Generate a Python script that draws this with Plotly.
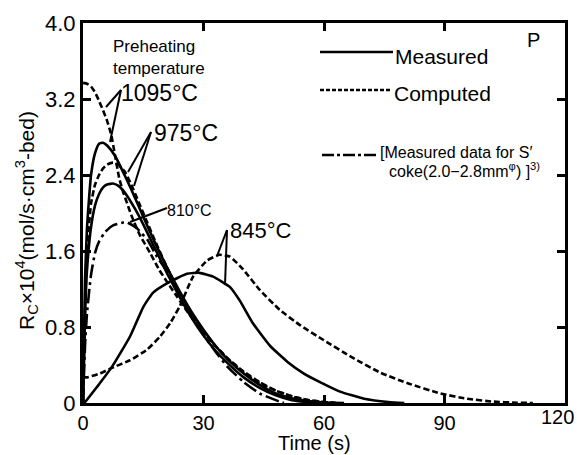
import plotly.graph_objects as go

# ---------------- data ----------------
# Measured (solid)
t_m1095 = [0, 0.5, 1, 1.5, 2, 3, 4, 5, 6, 8, 10, 12, 15, 18, 21, 24, 27, 30, 33, 36, 40, 44, 48, 52, 56, 60, 65]
r_m1095 = [0, 1.3, 1.85, 2.15, 2.4, 2.63, 2.73, 2.74, 2.71, 2.6, 2.43, 2.25, 1.96, 1.68, 1.42, 1.18, 0.96, 0.77, 0.6, 0.46, 0.31, 0.19, 0.1, 0.05, 0.02, 0.005, 0]

t_m975 = [0, 0.5, 1, 2, 3, 4, 5, 6, 7.5, 9, 11, 13, 15, 18, 21, 24, 27, 30, 33, 36, 40, 44, 48, 52, 56, 60]
r_m975 = [0, 0.9, 1.4, 1.85, 2.08, 2.2, 2.27, 2.3, 2.31, 2.28, 2.18, 2.04, 1.88, 1.62, 1.36, 1.12, 0.9, 0.71, 0.55, 0.42, 0.27, 0.16, 0.08, 0.03, 0.01, 0]

t_m845 = [0, 0.5, 3.5, 7.2, 11.7, 15, 17.4, 20.9, 25.9, 29, 32.4, 36.6, 39, 42.3, 46.6, 51, 55, 59, 64, 70, 76, 80]
r_m845 = [0, 0.01, 0.17, 0.38, 0.7, 1.01, 1.16, 1.26, 1.36, 1.37, 1.33, 1.22, 1.08, 0.84, 0.6, 0.43, 0.31, 0.22, 0.12, 0.045, 0.01, 0]

# Computed (dashed)
t_c1095 = [0, 1, 2, 3, 4, 5, 6, 7, 8, 9, 10, 11, 12, 14, 16.7, 19, 21, 23.4, 26, 30, 33, 36, 40, 44, 48, 52, 56, 60, 63]
r_c1095 = [3.37, 3.36, 3.33, 3.27, 3.18, 3.08, 2.97, 2.83, 2.6, 2.37, 2.22, 2.1, 1.98, 1.78, 1.58, 1.4, 1.27, 1.12, 0.96, 0.75, 0.6, 0.47, 0.33, 0.22, 0.13, 0.07, 0.03, 0.01, 0]

t_c975 = [0, 0.5, 1, 2, 3, 4, 5, 6, 7.5, 9, 10.5, 12, 14, 16, 18, 21, 24, 27, 30, 33, 36, 40, 44, 48, 52, 56, 60, 63]
r_c975 = [0, 1.0, 1.6, 2.1, 2.3, 2.4, 2.47, 2.51, 2.53, 2.5, 2.43, 2.3, 2.1, 1.9, 1.7, 1.42, 1.17, 0.95, 0.76, 0.6, 0.47, 0.32, 0.21, 0.13, 0.07, 0.03, 0.01, 0]

t_c845 = [0, 1, 4.2, 7.2, 11.7, 15.9, 19.2, 21.7, 24.1, 27.4, 30.9, 34, 36.6, 39.8, 44, 49, 54, 60, 67, 74, 80.7, 89, 95.6, 102, 108, 112]
r_c845 = [0.27, 0.27, 0.31, 0.37, 0.45, 0.56, 0.7, 0.84, 1.02, 1.33, 1.5, 1.56, 1.54, 1.41, 1.19, 0.98, 0.82, 0.66, 0.48, 0.32, 0.21, 0.1, 0.045, 0.015, 0.003, 0]

# Measured data for S' coke (dash-dot), 810 C
t_s810 = [0, 0.5, 1, 2, 3, 4, 5.5, 7.5, 10, 11, 13.4, 16, 18.4, 21, 24, 27, 30, 33, 36, 40, 44, 48, 50]
r_s810 = [0, 0.6, 0.95, 1.35, 1.58, 1.7, 1.8, 1.87, 1.9, 1.9, 1.84, 1.72, 1.54, 1.38, 1.15, 0.93, 0.72, 0.54, 0.38, 0.22, 0.1, 0.03, 0]

x_ticks = [0, 30, 60, 90, 120]
x_tick_labels = ["0", "30", "60", "90", "120"]
y_ticks = [0, 0.8, 1.6, 2.4, 3.2, 4.0]
y_tick_labels = ["0", "0.8", "1.6", "2.4", "3.2", "4.0"]

# ---------------- figure ----------------
W, H = 577, 455
L, R, T, B = 83, 12, 23, 52
PW, PH = W - L - R, H - T - B

def px(x):
    return (x - L) / PW

def py(y):
    return (H - B - y) / PH

SOLID = "solid"
DASH = "6px,3px"
DASHDOT = "14px,4px,3px,4px"

fig = go.Figure()

def add(t, r, dash):
    fig.add_trace(go.Scatter(
        x=t, y=r, mode="lines",
        line=dict(color="black", width=2.6, dash=dash, shape="spline", smoothing=0.45),
        showlegend=False, hoverinfo="skip"))

add(t_m1095, r_m1095, SOLID)
add(t_m975, r_m975, SOLID)
add(t_m845, r_m845, SOLID)
add(t_c1095, r_c1095, DASH)
add(t_c975, r_c975, DASH)
add(t_c845, r_c845, DASH)
add(t_s810, r_s810, DASHDOT)

FONT = "Liberation Sans"
shapes = []
annotations = []

def seg(x0, y0, x1, y1, dash="solid", w=2):
    shapes.append(dict(type="line", xref="paper", yref="paper",
                       x0=px(x0), y0=py(y0), x1=px(x1), y1=py(y1),
                       line=dict(color="black", width=w, dash=dash)))

def txt(x, y, s, size, xanchor="left", yanchor="middle", angle=0):
    annotations.append(dict(xref="paper", yref="paper", x=px(x), y=py(y), text=s,
                            showarrow=False, xanchor=xanchor, yanchor=yanchor,
                            textangle=angle, borderpad=0, align="left",
                            font=dict(family=FONT, size=size, color="black")))

# legend
seg(320, 52, 393, 52, "solid", 2.4)
txt(394, 56, "Measured", 21)
seg(320, 90, 392, 90, "4px,2px", 2.4)
txt(393, 93, "Computed", 21)
seg(322, 155, 378, 155, "12px,3px,3px,3px", 2.4)
txt(379, 153, "[Measured data for S\u2032", 16)
txt(388, 170, "coke(2.0\u22122.8mm<sup>\u03c6</sup>) ]<sup>3)</sup>", 16)
txt(526, 40, "P", 20)

# labels and pointers
txt(112, 58, "Preheating<br>temperature", 17)
txt(120, 93, "1095\u00b0C", 23)
seg(121, 90, 106, 107)
seg(121, 90, 110, 142)
txt(153, 133, "975\u00b0C", 23)
seg(151, 132, 128, 172)
seg(151, 132, 134, 186)
txt(166, 210, "810\u00b0C", 16)
seg(167, 208, 130, 222)
txt(229, 230, "845\u00b0C", 22)
seg(227, 230, 217, 256)
seg(227, 230, 225, 285)

# last x tick label kept inside the picture, as in the reference
txt(575, 405, x_tick_labels[-1], 20, xanchor="right", yanchor="top")

# axis titles
txt(314, 455, "Time (s)", 20, xanchor="center", yanchor="bottom")
txt(26, 221, "R<sub>C</sub>\u00d710<sup>4</sup>(mol/s\u00b7cm<sup>3</sup>-bed)", 21,
    xanchor="center", angle=-90)

axis_common = dict(showline=True, linewidth=3, linecolor="black", mirror="ticks",
                   ticks="inside", ticklen=8, tickwidth=2.5, tickcolor="black",
                   showgrid=False, zeroline=False, automargin=False)

fig.update_layout(
    width=W, height=H,
    margin=dict(l=L, r=R, t=T, b=B),
    plot_bgcolor="white", paper_bgcolor="white",
    xaxis=dict(range=[0, 120], tickvals=x_ticks,
               ticktext=x_tick_labels[:-1] + [""],
               tickfont=dict(family=FONT, size=20, color="black"), **axis_common),
    yaxis=dict(range=[0, 4.0], tickvals=y_ticks, ticktext=y_tick_labels,
               tickfont=dict(family=FONT, size=22, color="black"), **axis_common),
    shapes=shapes, annotations=annotations, showlegend=False,
)

fig.write_html("out.html", config={"displayModeBar": False},
               post_script="document.body.style.margin='0';document.body.style.overflow='hidden';")
